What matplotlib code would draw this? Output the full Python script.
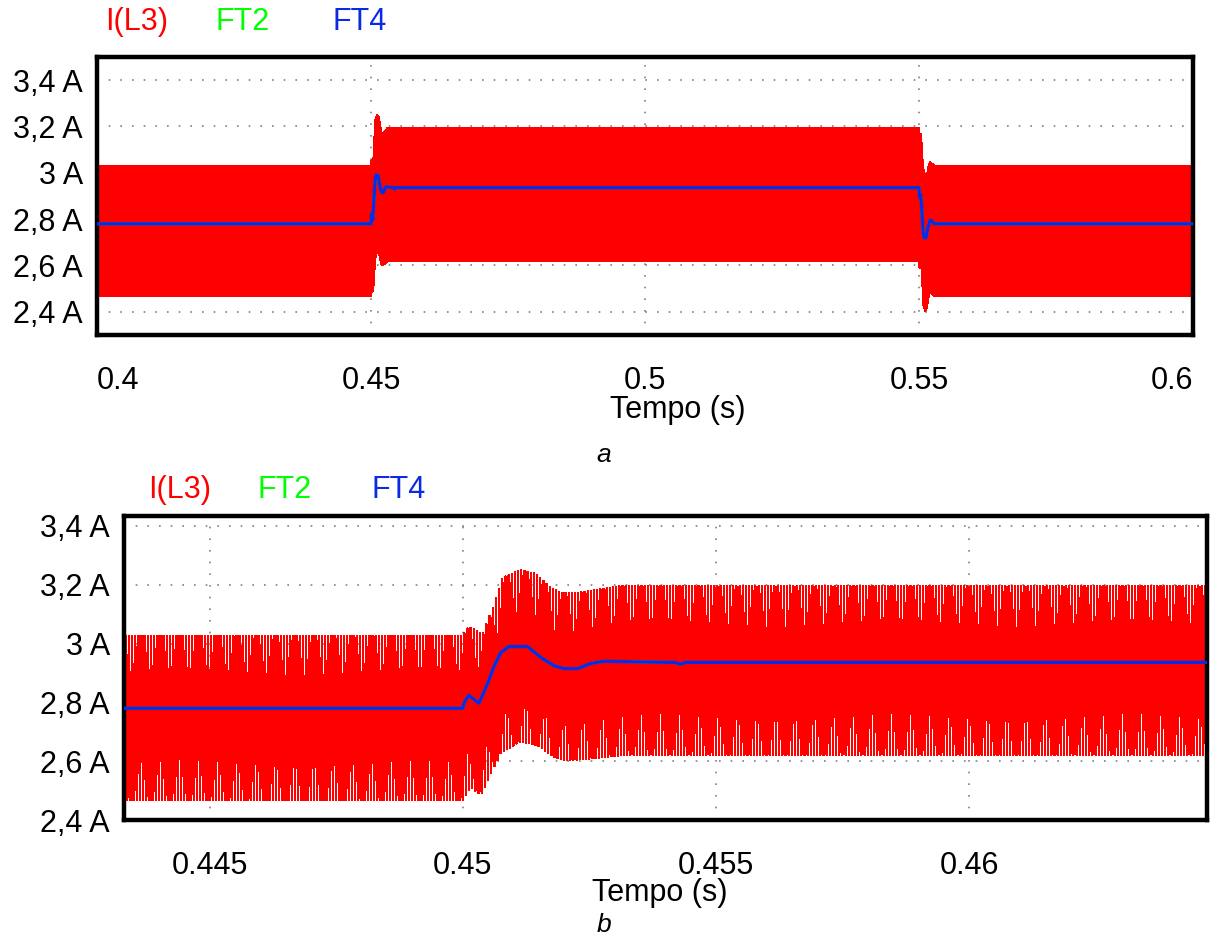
import numpy as np
import matplotlib
matplotlib.use("Agg")
import matplotlib.pyplot as plt

plt.rcParams['font.family'] = ['Liberation Sans', 'DejaVu Sans']

# switching frequency of the inductor current ripple (Hz)
f_sw = 16000.0

# upper envelope of I(L3)
t_up = [0.400, 0.4500, 0.45012, 0.45039, 0.45059, 0.45079, 0.45114, 0.45144,
        0.45174, 0.45193, 0.45227, 0.45278, 0.45312,
        0.5500, 0.55016, 0.55036, 0.55059, 0.55075, 0.55114, 0.55148,
        0.5518, 0.5520, 0.55258, 0.5532, 0.600]
i_up = [3.027, 3.027, 3.058, 3.030, 3.120, 3.224, 3.250, 3.237,
        3.190, 3.173, 3.173, 3.186, 3.195,
        3.195, 3.150, 3.170, 3.080, 3.020, 2.980, 2.990,
        3.035, 3.045, 3.035, 3.027, 3.027]

# lower envelope of I(L3)
t_lo = [0.400, 0.4500, 0.45016, 0.45036, 0.45059, 0.45075, 0.45114, 0.45148,
        0.4518, 0.4520, 0.45258, 0.4532,
        0.5500, 0.55012, 0.55039, 0.55059, 0.55079, 0.55114, 0.55144,
        0.55174, 0.55193, 0.55227, 0.55278, 0.5531, 0.600]
i_lo = [2.468, 2.468, 2.512, 2.485, 2.570, 2.627, 2.668, 2.654,
        2.614, 2.603, 2.610, 2.622,
        2.622, 2.590, 2.620, 2.530, 2.430, 2.405, 2.418,
        2.465, 2.482, 2.482, 2.470, 2.468, 2.468]

# FT4 (average current), FT2 lies under it
t_ft4 = [0.400, 0.4500, 0.45003, 0.45012, 0.45032, 0.45049, 0.45061, 0.45075,
         0.45091, 0.45128, 0.45154, 0.4518, 0.4520, 0.45227, 0.45252, 0.45278,
         0.4534, 0.4542, 0.4543, 0.4544,
         0.5500, 0.55003, 0.55012, 0.55032, 0.55049, 0.55075, 0.55091, 0.55128,
         0.55154, 0.5520, 0.55227, 0.5528, 0.600]
ft4 = [2.780, 2.780, 2.800, 2.824, 2.797, 2.864, 2.919, 2.969,
       2.990, 2.990, 2.953, 2.925, 2.915, 2.915, 2.932, 2.940,
       2.938, 2.936, 2.930, 2.936,
       2.936, 2.915, 2.893, 2.905, 2.850, 2.750, 2.720, 2.720,
       2.755, 2.795, 2.795, 2.780, 2.780]
ft2 = list(ft4)

yticks = [2.4, 2.6, 2.8, 3.0, 3.2, 3.4]
ylabels = ['2,4 A', '2,6 A', '2,8 A', '3 A', '3,2 A', '3,4 A']
xticks_a = [0.4, 0.45, 0.5, 0.55, 0.6]
xlabels_a = ['0.4', '0.45', '0.5', '0.55', '0.6']
xticks_b = [0.445, 0.45, 0.455, 0.46]
xlabels_b = ['0.445', '0.45', '0.455', '0.46']

# ripple waveform: vertices alternate between the two envelopes
tk = np.arange(0.4, 0.6, 0.5 / f_sw)
lo_k = np.interp(tk, t_lo, i_lo)
up_k = np.interp(tk, t_up, i_up)
il3 = np.where(np.arange(len(tk)) % 2 == 0, lo_k, up_k)

RED = '#ff0000'
GREEN = '#00ff00'
BLUE = '#0a2ae6'
FS = 22

fig = plt.figure(figsize=(12.11, 9.39), dpi=100)
ax1 = fig.add_axes([97 / 1211, 1 - 335 / 939, (1193 - 97) / 1211, (335 - 57) / 939])
ax2 = fig.add_axes([124 / 1211, 1 - 820 / 939, (1207 - 124) / 1211, (820 - 516) / 939])


def style(ax, xt, xl, xlim, ylim):
    ax.plot(tk, il3, color=RED, lw=1.0, antialiased=False, zorder=2)
    ax.plot(t_ft4, ft2, color=GREEN, lw=2.0, zorder=3)
    ax.plot(t_ft4, ft4, color=BLUE, lw=2.4, zorder=4)
    ax.set_xlim(*xlim)
    ax.set_ylim(*ylim)
    ax.set_xticks(xt)
    ax.set_xticklabels(xl, fontsize=FS)
    ax.set_yticks(yticks)
    ax.set_yticklabels(ylabels, fontsize=FS)
    ax.tick_params(length=0, pad=10)
    ax.tick_params(axis='x', pad=22)
    ax.grid(True, color='#808080', lw=1.2, ls=(0, (1, 6)), zorder=0)
    ax.set_axisbelow(True)
    for s in ax.spines.values():
        s.set_linewidth(3.2)
        s.set_color('black')


style(ax1, xticks_a, xlabels_a, (0.4, 0.6), (2.3, 3.5))
labs = ax1.get_xticklabels()
labs[0].set_ha('left')
labs[-1].set_ha('right')
style(ax2, xticks_b, xlabels_b, (0.44331, 0.4647), (2.4, 3.434))

# series names above each panel
fig.text(137 / 1211, 1 - 22 / 939, 'I(L3)', color=RED, fontsize=FS, ha='center', va='center')
fig.text(243 / 1211, 1 - 22 / 939, 'FT2', color=GREEN, fontsize=FS, ha='center', va='center')
fig.text(360 / 1211, 1 - 22 / 939, 'FT4', color=BLUE, fontsize=FS, ha='center', va='center')
fig.text(180 / 1211, 1 - 490 / 939, 'I(L3)', color=RED, fontsize=FS, ha='center', va='center')
fig.text(285 / 1211, 1 - 490 / 939, 'FT2', color=GREEN, fontsize=FS, ha='center', va='center')
fig.text(399 / 1211, 1 - 490 / 939, 'FT4', color=BLUE, fontsize=FS, ha='center', va='center')

fig.text(678 / 1211, 1 - 410 / 939, 'Tempo (s)', fontsize=FS, ha='center', va='center')
fig.text(604 / 1211, 1 - 455 / 939, 'a', fontsize=19, style='italic', ha='center', va='center')
fig.text(660 / 1211, 1 - 893 / 939, 'Tempo (s)', fontsize=FS, ha='center', va='center')
fig.text(604 / 1211, 1 - 925 / 939, 'b', fontsize=19, style='italic', ha='center', va='center')

fig.savefig('out.png', dpi=100)
